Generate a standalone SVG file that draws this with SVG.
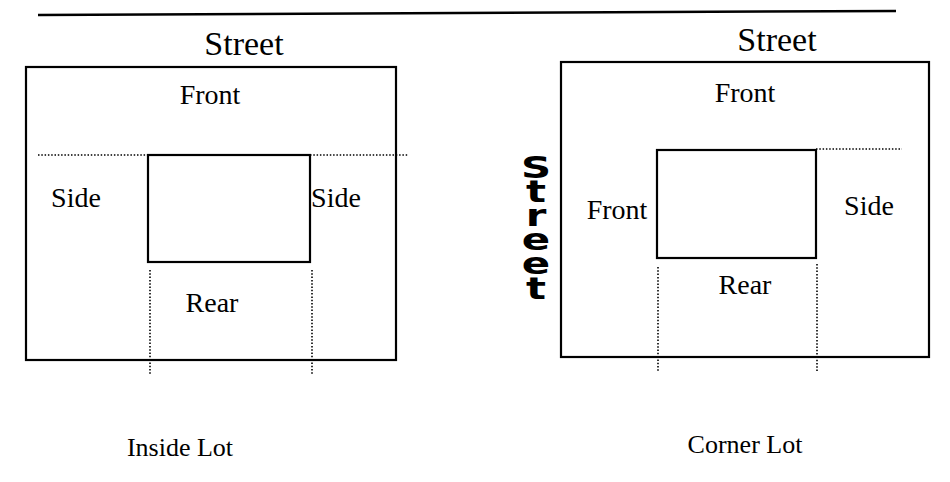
<svg xmlns="http://www.w3.org/2000/svg" width="950" height="482" viewBox="0 0 950 482">
<style>
.lbl{font-family:"Liberation Serif","Times New Roman",serif;font-size:28px;fill:#000}
.ttl{font-family:"Liberation Serif","Times New Roman",serif;font-size:34px;fill:#000}
.cap{font-family:"Liberation Serif","Times New Roman",serif;font-size:26px;fill:#000}
.box{fill:none;stroke:#000;stroke-width:2.2}
.dot{fill:none;stroke:#000;stroke-width:1.6;stroke-dasharray:1.5 1.8}
.vs{font-family:"DejaVu Sans",Arial,sans-serif;font-weight:bold;font-size:31px;fill:#000;writing-mode:vertical-rl;text-orientation:upright;letter-spacing:-12px}
</style>
<rect width="950" height="482" fill="#fff"/>
<line x1="38" y1="15" x2="896" y2="11" stroke="#000" stroke-width="2.5"/>

<g id="inside-lot">
  <text class="ttl" x="244" y="55" text-anchor="middle">Street</text>
  <rect class="box" x="26" y="67" width="370" height="293"/>
  <rect class="box" x="148" y="155" width="162" height="107"/>
  <text class="lbl" x="210" y="104" text-anchor="middle">Front</text>
  <text class="lbl" x="76" y="207" text-anchor="middle">Side</text>
  <text class="lbl" x="336" y="207" text-anchor="middle">Side</text>
  <text class="lbl" x="212" y="312" text-anchor="middle">Rear</text>
  <text class="cap" x="180" y="456" text-anchor="middle">Inside Lot</text>
</g>

<g id="corner-lot">
  <text class="ttl" x="777" y="51" text-anchor="middle">Street</text>
  <rect class="box" x="561" y="62" width="368" height="295"/>
  <rect class="box" x="657" y="150" width="159" height="108"/>
  <text class="lbl" x="745" y="102" text-anchor="middle">Front</text>
  <text class="lbl" x="617" y="219" text-anchor="middle">Front</text>
  <text class="lbl" x="869" y="215" text-anchor="middle">Side</text>
  <text class="lbl" x="745" y="294" text-anchor="middle">Rear</text>
  <text class="cap" x="745" y="453" text-anchor="middle">Corner Lot</text>
  <g id="side-street" transform="translate(536,0) scale(1.35,1)">
    <text class="vs" x="0" y="149">Street</text>
  </g>
</g>

<g id="connectors">
  <line class="dot" x1="38" y1="155" x2="148" y2="155"/>
  <line class="dot" x1="310" y1="155" x2="408" y2="155"/>
  <line class="dot" x1="150" y1="270" x2="150" y2="375"/>
  <line class="dot" x1="312" y1="270" x2="312" y2="375"/>
  <line class="dot" x1="816" y1="149" x2="902" y2="149"/>
  <line class="dot" x1="658" y1="267" x2="658" y2="372"/>
  <line class="dot" x1="817" y1="264" x2="817" y2="372"/>
</g>
</svg>
